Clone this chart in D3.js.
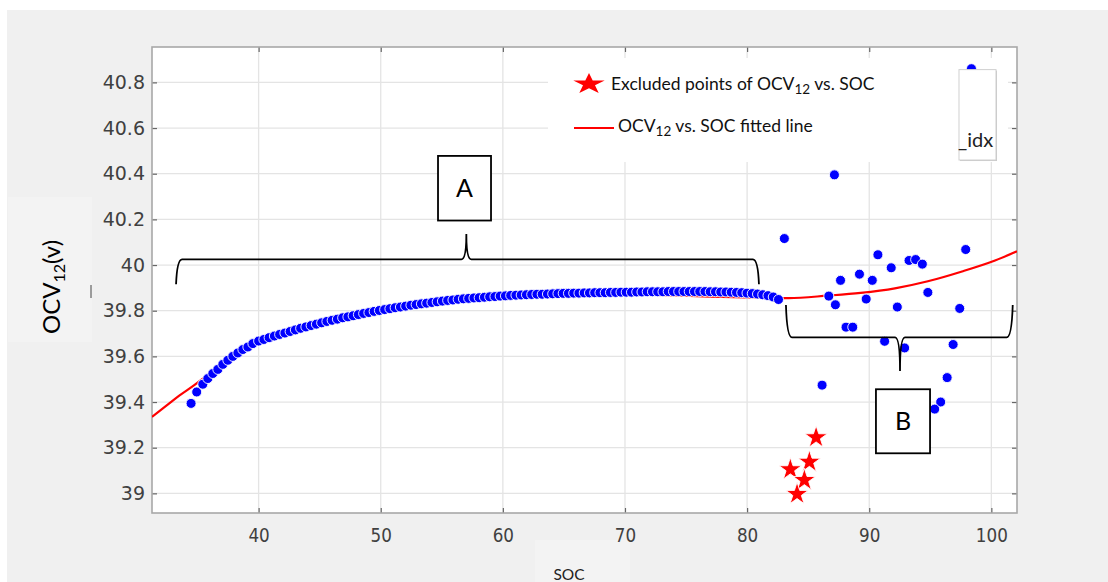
<!DOCTYPE html>
<html><head><meta charset="utf-8">
<script src="https://cdn.jsdelivr.net/npm/d3@7"></script>
<style>body{margin:0;background:#fff}svg{display:block}</style>
</head><body>
<svg id="c" width="1108" height="582"></svg>
<script>
// ---------- data ----------
const xTicks = [40, 50, 60, 70, 80, 90, 100];
const yTicks = [39, 39.2, 39.4, 39.6, 39.8, 40, 40.2, 40.4, 40.6, 40.8];

// discharge curve (section A)
const curveSOC = [34.47,34.93,35.43,35.84,36.25,36.66,37.07,37.48,37.89,38.30,38.71,39.12,39.53,
40.00,40.43,40.86,41.29,41.72,42.15,42.58,43.01,43.44,43.87,44.30,44.73,45.16,45.59,46.02,46.45,46.88,47.31,47.74,48.17,
48.60,49.03,49.46,49.89,50.32,50.75,51.18,51.61,52.04,52.47,52.90,53.33,53.76,54.19,54.62,55.05,55.48,55.91,56.34,56.77,
57.20,57.63,58.06,58.49,58.92,59.35,59.78,60.21,60.64,61.07,61.50,61.93,62.36,62.79,63.22,63.65,64.08,64.51,64.94,65.37,
65.80,66.23,66.66,67.09,67.52,67.95,68.38,68.81,69.24,69.67,70.10,70.53,70.96,71.39,71.82,72.25,72.68,73.11,73.54,73.97,
74.40,74.83,75.26,75.69,76.12,76.55,76.98,77.41,77.84,78.27,78.70,79.13,79.56,79.99,80.42,80.85,81.28,81.71,82.14,82.57];
const curveOCV = [39.394,39.444,39.478,39.503,39.525,39.543,39.565,39.583,39.600,39.615,39.630,39.641,39.656,
39.667,39.674,39.682,39.689,39.696,39.702,39.709,39.716,39.723,39.729,39.735,39.741,39.747,39.753,39.758,39.763,39.769,39.773,39.778,39.783,
39.788,39.792,39.797,39.801,39.805,39.809,39.813,39.816,39.820,39.824,39.827,39.830,39.833,39.836,39.839,39.842,39.845,39.847,39.850,39.852,
39.854,39.856,39.857,39.859,39.861,39.862,39.864,39.865,39.867,39.868,39.869,39.870,39.871,39.872,39.872,39.873,39.874,39.875,39.876,39.876,
39.877,39.877,39.878,39.878,39.879,39.879,39.879,39.880,39.880,39.881,39.881,39.881,39.882,39.882,39.883,39.883,39.883,39.883,39.884,39.884,
39.884,39.884,39.884,39.884,39.884,39.884,39.883,39.883,39.882,39.882,39.881,39.880,39.879,39.877,39.875,39.873,39.870,39.866,39.860,39.849];

// scattered points (section B)
const scatterSOC = [87.15,83.05,90.71,97.90,93.26,93.80,94.35,91.80,89.20,90.25,87.65,94.80,86.69,87.23,89.75,92.30,97.41,
88.10,88.65,91.26,92.90,96.87,86.14,96.38,95.85,95.36,98.37];
const scatterOCV = [40.395,40.116,40.045,40.068,40.020,40.024,40.004,39.988,39.960,39.933,39.933,39.880,39.864,39.826,39.851,39.816,39.810,
39.728,39.728,39.666,39.637,39.652,39.474,39.507,39.400,39.369,40.860];

// excluded points
const excludedSOC = [85.65,85.10,83.54,84.69,84.09];
const excludedOCV = [39.245,39.138,39.105,39.058,38.997];

// fitted line
const fitSOC = [31.27,32.5,33.5,34.73,35.5,36.5,38,40,42,45,50,55,60,65,70,74,77,80,82,83.4,86.6,89.3,92.1,94.8,97.6,100.3,102.1];
const fitOCV = [39.335,39.386,39.428,39.474,39.505,39.545,39.600,39.660,39.700,39.745,39.800,39.838,39.860,39.870,39.872,39.867,39.862,39.858,39.855,39.855,39.866,39.878,39.898,39.929,39.972,40.020,40.060];

// annotations (data units)
const braceA = {x0: 33.24, x1: 80.97, xc: 57.01, yLine: 40.025, yEnd: 39.916, yTip: 40.136};
const boxA = {x0: 54.69, x1: 59.03, y0: 40.478, y1: 40.195, label: "A"};
const braceB = {x0: 83.18, x1: 101.75, xc: 92.52, yLine: 39.6835, yEnd: 39.825, yTip: 39.536};
const boxB = {x0: 90.55, x1: 94.98, y0: 39.456, y1: 39.1755, label: "B"};
const idxBox = {x0: 97.35, x1: 100.38, y0: 40.856, y1: 40.46, label: "_idx"};

// ---------- drawing ----------
const svg = d3.select("#c");
const L = 152, R = 1017, T = 47, B = 513;
const x = d3.scaleLinear().domain([31.27, 102.1]).range([L, R]);
const y = d3.scaleLinear().domain([38.914, 40.955]).range([B, T]);

// backgrounds
svg.append("rect").attr("x", 7).attr("y", 10).attr("width", 1101).attr("height", 572).attr("fill", "#f0f0f0");
svg.append("rect").attr("x", 8).attr("y", 197).attr("width", 84).attr("height", 145).attr("fill", "#f3f3f3");
svg.append("rect").attr("x", 535).attr("y", 540).attr("width", 95).attr("height", 42).attr("fill", "#f3f3f3");
svg.append("line").attr("x1", 91).attr("x2", 91).attr("y1", 285).attr("y2", 298).attr("stroke", "#444").attr("stroke-width", 1);
svg.append("rect").attr("x", L).attr("y", T).attr("width", R - L).attr("height", B - T).attr("fill", "#fff");

svg.append("defs").append("clipPath").attr("id", "clip")
  .append("rect").attr("x", L).attr("y", T).attr("width", R - L).attr("height", B - T);

// grid
const grid = svg.append("g").attr("stroke", "#e4e4e4").attr("stroke-width", 1.3);
xTicks.forEach(t => grid.append("line").attr("x1", x(t)).attr("x2", x(t)).attr("y1", T).attr("y2", B));
yTicks.forEach(t => grid.append("line").attr("x1", L).attr("x2", R).attr("y1", y(t)).attr("y2", y(t)));

// legend backdrop (hides grid)
svg.append("rect").attr("x", 548).attr("y", 58).attr("width", 460).attr("height", 104).attr("fill", "#fff");

// axes
const fmt = d => String(d);
const ax = svg.append("g").attr("transform", `translate(0,${B})`)
  .call(d3.axisBottom(x).tickValues(xTicks).tickFormat(fmt).tickSize(-5).tickPadding(15));
ax.selectAll("text").attr("transform", "scale(0.84,1)").style("font-family", "DejaVu Sans").style("font-size", "20px").attr("fill", "#404040");
const ay = svg.append("g").attr("transform", `translate(${L},0)`)
  .call(d3.axisLeft(y).tickValues(yTicks).tickFormat(fmt).tickSize(-5).tickPadding(7));
ay.selectAll("text").style("font-family", "DejaVu Sans").style("font-size", "19px").attr("fill", "#404040");
svg.append("g").attr("transform", `translate(0,${T})`).call(d3.axisTop(x).tickValues(xTicks).tickFormat("").tickSize(-5));
svg.append("g").attr("transform", `translate(${R},0)`).call(d3.axisRight(y).tickValues(yTicks).tickFormat("").tickSize(-5));
svg.selectAll(".domain").remove();
svg.selectAll(".tick line").attr("stroke", "#666").attr("stroke-width", 1.2);
svg.append("rect").attr("x", L).attr("y", T).attr("width", R - L).attr("height", B - T)
  .attr("fill", "none").attr("stroke", "#a8a8a8").attr("stroke-width", 1.6);

// plot content
const plot = svg.append("g").attr("clip-path", "url(#clip)");
const line = d3.line().x(d => x(d[0])).y(d => y(d[1])).curve(d3.curveMonotoneX);
plot.append("path").datum(fitSOC.map((s, i) => [s, fitOCV[i]]))
  .attr("d", line).attr("fill", "none").attr("stroke", "#ff0000").attr("stroke-width", 2.2);

const curvePts = curveSOC.map((s, i) => [s, curveOCV[i]]);
const scatPts = scatterSOC.map((s, i) => [s, scatterOCV[i]]);
plot.selectAll("circle.p").data(curvePts.concat(scatPts)).join("circle")
  .attr("cx", d => x(d[0])).attr("cy", d => y(d[1])).attr("r", 5)
  .attr("fill", "#0000ff").attr("stroke", "#fff").attr("stroke-width", 0.9);

const starR = 11.8;
const star = d3.symbol().type(d3.symbolStar).size(starR * starR / 0.8908130915292852);
plot.selectAll("path.s").data(excludedSOC.map((s, i) => [s, excludedOCV[i]])).join("path")
  .attr("d", star).attr("transform", d => `translate(${x(d[0])},${y(d[1])})`)
  .attr("fill", "#ff0000").attr("stroke", "#fff").attr("stroke-width", 0.9);

// braces
function brace(b) {
  const X0 = x(b.x0), X1 = x(b.x1), XC = x(b.xc), YL = y(b.yLine), YE = y(b.yEnd), YT = y(b.yTip);
  const p = d3.path();
  p.moveTo(X0, YE);
  p.quadraticCurveTo(X0 + 1, YL, X0 + 6, YL);
  p.lineTo(XC - 5, YL);
  p.quadraticCurveTo(XC, YL, XC, YT);
  p.moveTo(XC, YT);
  p.quadraticCurveTo(XC, YL, XC + 5, YL);
  p.lineTo(X1 - 6, YL);
  p.quadraticCurveTo(X1 - 1, YL, X1, YE);
  svg.append("path").attr("d", p.toString()).attr("fill", "none").attr("stroke", "#000").attr("stroke-width", 1.8);
}
brace(braceA); brace(braceB);

function box(b, size) {
  const X0 = x(b.x0), X1 = x(b.x1), Y0 = y(b.y0), Y1 = y(b.y1);
  svg.append("rect").attr("x", X0).attr("y", Y0).attr("width", X1 - X0).attr("height", Y1 - Y0)
    .attr("fill", "#fff").attr("stroke", "#000").attr("stroke-width", 1.8);
  svg.append("text").attr("x", (X0 + X1) / 2).attr("y", (Y0 + Y1) / 2 + 9).attr("text-anchor", "middle")
    .style("font-family", "Lato").style("font-size", size + "px").attr("fill", "#000").text(b.label);
}
box(boxA, 25); box(boxB, 25);

// _idx box
{
  const X0 = x(idxBox.x0), X1 = x(idxBox.x1), Y0 = y(idxBox.y0), Y1 = y(idxBox.y1);
  svg.append("rect").attr("x", X0 + 1).attr("y", Y0 + 1).attr("width", X1 - X0).attr("height", Y1 - Y0).attr("fill", "#c8c8c8");
  svg.append("rect").attr("x", X0).attr("y", Y0).attr("width", X1 - X0).attr("height", Y1 - Y0)
    .attr("fill", "#fff").attr("stroke", "#d0d0d0").attr("stroke-width", 1);
  svg.append("text").attr("x", X0 - 1).attr("y", Y1 - 13).style("font-family", "Lato").style("font-size", "20px")
    .attr("fill", "#222").text(idxBox.label);
}

// legend
const lg = svg.append("g").style("font-family", "Lato").attr("fill", "#111");
lg.append("path").attr("d", d3.symbol().type(d3.symbolStar).size(11 * 11 / 0.8908130915292852))
  .attr("transform", "translate(589,84) scale(1.5,1)").attr("fill", "#ff0000");
const t1 = lg.append("text").attr("x", 611).attr("y", 89.5).style("font-size", "17.5px");
t1.append("tspan").text("Excluded points of OCV");
t1.append("tspan").attr("dy", 4).style("font-size", "13.5px").text("12");
t1.append("tspan").attr("dy", -4).text(" vs. SOC");
lg.append("line").attr("x1", 574).attr("x2", 614).attr("y1", 128).attr("y2", 128).attr("stroke", "#ff0000").attr("stroke-width", 1.8);
const t2 = lg.append("text").attr("x", 618).attr("y", 131.5).style("font-size", "17.5px");
t2.append("tspan").text("OCV");
t2.append("tspan").attr("dy", 4).style("font-size", "13.5px").text("12");
t2.append("tspan").attr("dy", -4).text(" vs. SOC fitted line");

// axis titles
const yl = svg.append("text").attr("transform", "translate(60,287) rotate(-90)").attr("text-anchor", "middle")
  .style("font-family", "Lato").style("font-size", "24px").attr("fill", "#000");
yl.append("tspan").text("OCV");
yl.append("tspan").attr("dy", 5).style("font-size", "16px").text("12");
yl.append("tspan").attr("dy", -5).text("(v)");
svg.append("text").attr("x", 569).attr("y", 580).attr("text-anchor", "middle")
  .style("font-family", "Lato").style("font-size", "15.5px").attr("fill", "#222").text("SOC");
</script>
</body></html>
